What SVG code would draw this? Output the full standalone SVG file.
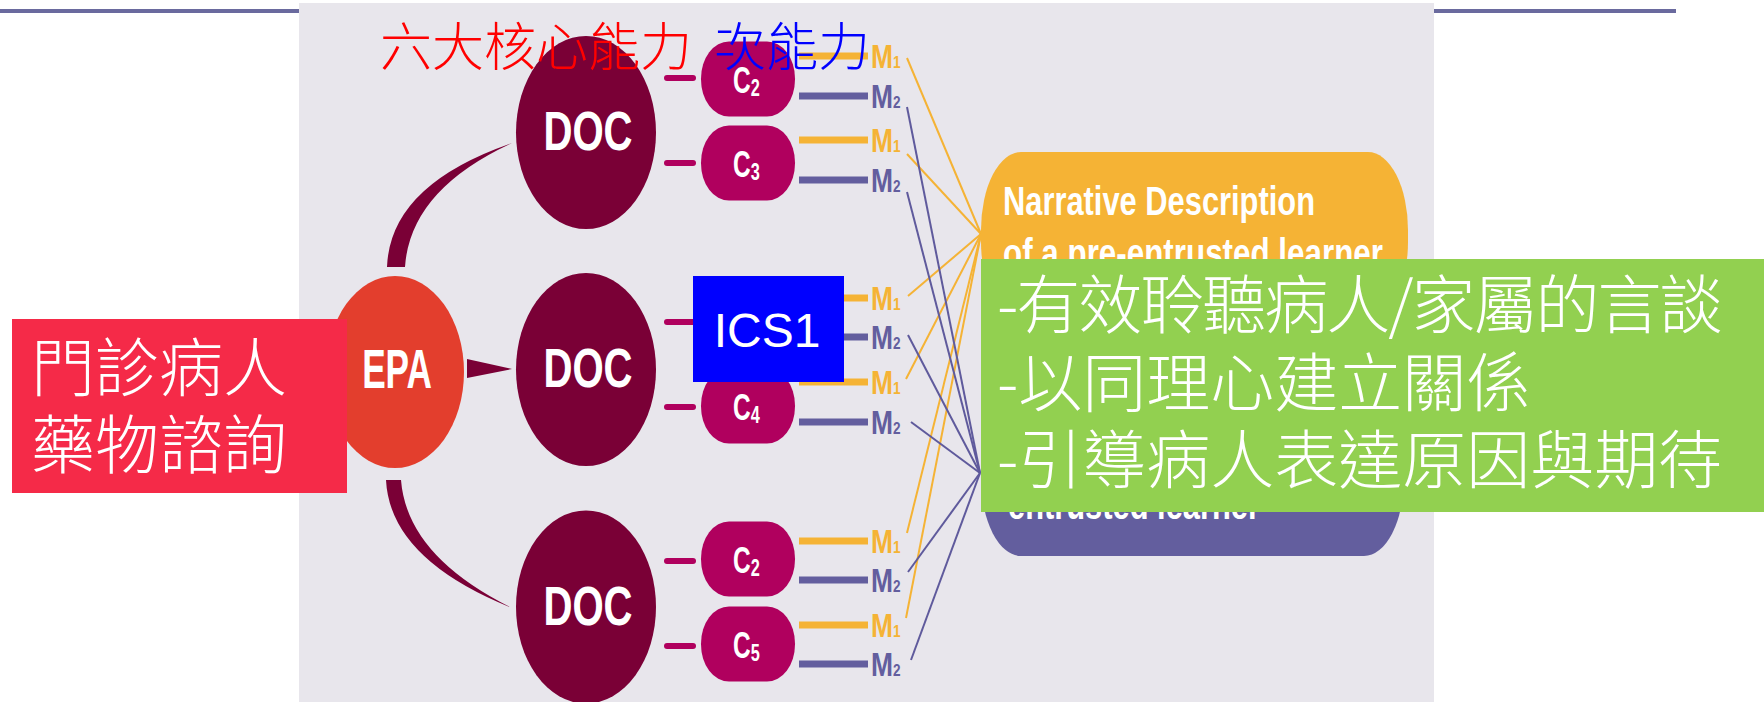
<svg xmlns="http://www.w3.org/2000/svg" width="1764" height="702" viewBox="0 0 1764 702">
<defs>
<style>
.doc{fill:#7A0036}
.epa{fill:#E33E2D}
.pill{fill:#B0005E}
.dash{stroke:#B0005E;stroke-width:6;stroke-linecap:round}
.mo{stroke:#F5B335;stroke-width:7}
.mp{stroke:#635E9E;stroke-width:7}
.co{stroke:#F5B335;stroke-width:2;fill:none}
.cp{stroke:#5F5A9C;stroke-width:2;fill:none}
.bold{font-family:"Liberation Sans",Arial,sans-serif;font-weight:bold;fill:#fff}
.big{font-size:55px;text-anchor:middle}
.clab{font-size:36px}
.ml{font-family:"Liberation Sans",Arial,sans-serif;font-weight:bold;font-size:33px}
.o{fill:#F5B335}
.p{fill:#635E9E}
.nar{font-family:"Liberation Sans",Arial,sans-serif;font-weight:bold;font-size:41px;fill:#fff}
.cjk{font-family:"Noto Sans CJK TC","Noto Sans CJK SC",sans-serif;font-weight:300}
</style>
</defs>
<rect x="0" y="9" width="1676" height="4" fill="#6A6A9E"/>
<rect id="panel" x="299" y="3" width="1135" height="699" fill="#E8E6EC"/>

<g id="connectors">
  <path d="M387,267 Q390,185 512,143 Q410,190 405,267 Z" fill="#7A0036"/>
  <path d="M386,480 Q390,559 512,608 Q407,556 401,480 Z" fill="#7A0036"/>
  <polygon points="467,359 512,369 467,378" fill="#7A0036"/>
  <g>
    <line class="dash" x1="667" y1="78" x2="693" y2="78"/>
    <line class="dash" x1="667" y1="163" x2="693" y2="163"/>
    <line class="dash" x1="667" y1="322" x2="693" y2="322"/>
    <line class="dash" x1="667" y1="407" x2="693" y2="407"/>
    <line class="dash" x1="667" y1="561" x2="693" y2="561"/>
    <line class="dash" x1="667" y1="646" x2="693" y2="646"/>
  </g>
  <g>
    <line class="mo" x1="799" y1="56" x2="868" y2="56"/>
    <line class="mp" x1="799" y1="96" x2="868" y2="96"/>
    <line class="mo" x1="799" y1="140" x2="868" y2="140"/>
    <line class="mp" x1="799" y1="180" x2="868" y2="180"/>
    <line class="mo" x1="799" y1="298" x2="868" y2="298"/>
    <line class="mp" x1="799" y1="337" x2="868" y2="337"/>
    <line class="mo" x1="799" y1="382" x2="868" y2="382"/>
    <line class="mp" x1="799" y1="422" x2="868" y2="422"/>
    <line class="mo" x1="799" y1="541" x2="868" y2="541"/>
    <line class="mp" x1="799" y1="580" x2="868" y2="580"/>
    <line class="mo" x1="799" y1="625" x2="868" y2="625"/>
    <line class="mp" x1="799" y1="664" x2="868" y2="664"/>
  </g>
  <g>
    <line class="co" x1="907" y1="58" x2="981" y2="234"/>
    <line class="co" x1="907" y1="154" x2="981" y2="234"/>
    <line class="co" x1="908" y1="296" x2="981" y2="234"/>
    <line class="co" x1="906" y1="379" x2="981" y2="234"/>
    <line class="co" x1="907" y1="533" x2="981" y2="234"/>
    <line class="co" x1="906" y1="618" x2="981" y2="234"/>
    <line class="cp" x1="907" y1="107" x2="980" y2="473"/>
    <line class="cp" x1="907" y1="192" x2="980" y2="473"/>
    <line class="cp" x1="908" y1="335" x2="980" y2="473"/>
    <line class="cp" x1="911" y1="422" x2="980" y2="473"/>
    <line class="cp" x1="908" y1="572" x2="980" y2="473"/>
    <line class="cp" x1="911" y1="660" x2="980" y2="473"/>
  </g>
</g>

<g id="epa">
  <ellipse class="epa" cx="395" cy="372" rx="69" ry="96"/>
  <text class="bold big" transform="translate(397,388) scale(0.64,1)">EPA</text>
</g>

<g id="doc1">
  <ellipse class="doc" cx="586" cy="132.5" rx="70" ry="96.5"/>
  <text class="bold big" transform="translate(588,150) scale(0.73,1)">DOC</text>
</g>
<g id="doc2">
  <ellipse class="doc" cx="586" cy="369.5" rx="70" ry="96.5"/>
  <text class="bold big" transform="translate(588,387) scale(0.73,1)">DOC</text>
</g>
<g id="doc3">
  <ellipse class="doc" cx="586" cy="607" rx="70" ry="96.5"/>
  <text class="bold big" transform="translate(588,625) scale(0.73,1)">DOC</text>
</g>

<g id="c2a">
  <rect class="pill" x="701" y="41.5" width="94" height="75" rx="28" ry="37"/>
  <text class="bold clab" transform="translate(733,93) scale(0.68,1)">C<tspan font-size="24" dy="3">2</tspan></text>
</g>
<g id="c3">
  <rect class="pill" x="701" y="125.5" width="94" height="75" rx="28" ry="37"/>
  <text class="bold clab" transform="translate(733,177) scale(0.68,1)">C<tspan font-size="24" dy="3">3</tspan></text>
</g>
<g id="c-hidden">
  <rect class="pill" x="701" y="284.5" width="94" height="75" rx="28" ry="37"/>
</g>
<g id="c4">
  <rect class="pill" x="701" y="368.5" width="94" height="75" rx="28" ry="37"/>
  <text class="bold clab" transform="translate(733,420) scale(0.68,1)">C<tspan font-size="24" dy="3">4</tspan></text>
</g>
<g id="c2b">
  <rect class="pill" x="701" y="521.5" width="94" height="75" rx="28" ry="37"/>
  <text class="bold clab" transform="translate(733,573) scale(0.68,1)">C<tspan font-size="24" dy="3">2</tspan></text>
</g>
<g id="c5">
  <rect class="pill" x="701" y="606.5" width="94" height="75" rx="28" ry="37"/>
  <text class="bold clab" transform="translate(733,658) scale(0.68,1)">C<tspan font-size="24" dy="3">5</tspan></text>
</g>

<g id="m-labels">
  <text class="ml o" transform="translate(871,68) scale(0.8,1)">M<tspan font-size="17">1</tspan></text>
  <text class="ml p" transform="translate(871,108) scale(0.8,1)">M<tspan font-size="17">2</tspan></text>
  <text class="ml o" transform="translate(871,152) scale(0.8,1)">M<tspan font-size="17">1</tspan></text>
  <text class="ml p" transform="translate(871,192) scale(0.8,1)">M<tspan font-size="17">2</tspan></text>
  <text class="ml o" transform="translate(871,310) scale(0.8,1)">M<tspan font-size="17">1</tspan></text>
  <text class="ml p" transform="translate(871,349) scale(0.8,1)">M<tspan font-size="17">2</tspan></text>
  <text class="ml o" transform="translate(871,394) scale(0.8,1)">M<tspan font-size="17">1</tspan></text>
  <text class="ml p" transform="translate(871,434) scale(0.8,1)">M<tspan font-size="17">2</tspan></text>
  <text class="ml o" transform="translate(871,553) scale(0.8,1)">M<tspan font-size="17">1</tspan></text>
  <text class="ml p" transform="translate(871,592) scale(0.8,1)">M<tspan font-size="17">2</tspan></text>
  <text class="ml o" transform="translate(871,637) scale(0.8,1)">M<tspan font-size="17">1</tspan></text>
  <text class="ml p" transform="translate(871,676) scale(0.8,1)">M<tspan font-size="17">2</tspan></text>
</g>

<g id="pre-entrusted">
  <rect x="981" y="152" width="427" height="168" rx="40" ry="78" fill="#F5B335"/>
  <text class="nar" x="1003" y="215" textLength="312" lengthAdjust="spacingAndGlyphs">Narrative Description</text>
  <text class="nar" x="1003" y="267" textLength="380" lengthAdjust="spacingAndGlyphs">of a pre-entrusted learner</text>
</g>
<g id="entrusted">
  <rect x="981" y="389" width="423" height="167" rx="40" ry="78" fill="#635E9E"/>
  <text class="nar" x="1008" y="519" textLength="252" lengthAdjust="spacingAndGlyphs">entrusted learner</text>
</g>

<g id="title">
  <text class="cjk" font-size="52" y="66"><tspan x="380" fill="#FF0000">六大核心能力</tspan><tspan x="714" fill="#0000FF">次能力</tspan></text>
</g>

<g id="red-label">
  <rect x="12" y="319" width="335" height="174" fill="#F52A48"/>
  <text class="cjk" font-size="64" fill="#fff"><tspan x="31" y="391">門診病人</tspan><tspan x="31" y="468">藥物諮詢</tspan></text>
</g>

<g id="ics1">
  <rect x="693" y="276" width="151" height="106" fill="#0000FF"/>
  <text x="767" y="347" font-family="Liberation Sans, Arial, sans-serif" font-size="48" fill="#fff" text-anchor="middle">ICS1</text>
</g>

<g id="green-note">
  <rect x="981" y="259" width="783" height="253" fill="#92D050"/>
  <text class="cjk" font-size="64" fill="#fff">
    <tspan x="997" y="328" letter-spacing="-2">-有效聆聽病人/家屬的言談</tspan>
    <tspan x="997" y="406">-以同理心建立關係</tspan>
    <tspan x="997" y="483">-引導病人表達原因與期待</tspan>
  </text>
</g>
</svg>
